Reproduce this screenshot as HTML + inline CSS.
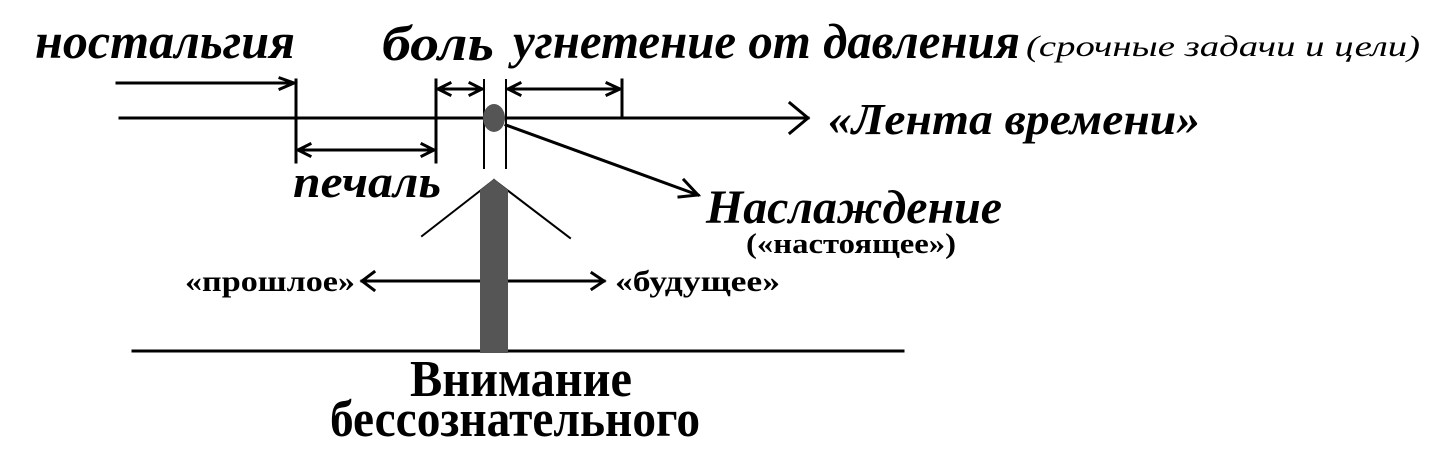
<!DOCTYPE html>
<html><head><meta charset="utf-8"><style>
html,body{margin:0;padding:0;background:#fff;}
svg{display:block}
.it{font-family:"Liberation Serif","DejaVu Serif",serif;font-style:italic;font-weight:bold;}
.b{font-family:"Liberation Serif","DejaVu Serif",serif;font-weight:bold;}
</style></head><body>
<svg width="1443" height="466" viewBox="0 0 1443 466" xmlns="http://www.w3.org/2000/svg">
<g stroke="#000" stroke-width="3" fill="none" stroke-linecap="square">
<line x1="120" y1="118" x2="808" y2="118"/>
<polyline points="790,103 808,118 790,133"/>
<line x1="296" y1="80" x2="296" y2="162"/>
<line x1="436" y1="80" x2="436" y2="162"/>
<line x1="484" y1="80" x2="484" y2="168" stroke-width="2"/>
<line x1="506" y1="80" x2="506" y2="168" stroke-width="2"/>
<line x1="622" y1="80" x2="622" y2="118"/>
<line x1="117" y1="83" x2="294" y2="83"/>
<polyline points="280,78 294,83 280,89"/>
<line x1="438" y1="89" x2="482" y2="89"/>
<polyline points="450,83 438,89 450,95"/>
<polyline points="470,83 482,89 470,95"/>
<line x1="508" y1="89" x2="620" y2="89"/>
<polyline points="520,83 508,89 520,95"/>
<polyline points="607,83 620,89 607,95"/>
<line x1="298" y1="150" x2="434" y2="150"/>
<polyline points="310,144 298,150 310,156"/>
<polyline points="422,144 434,150 422,156"/>
<line x1="506" y1="125" x2="698" y2="195"/>
<polyline points="684,180 698,195 679,197"/>
<line x1="494" y1="180" x2="422" y2="236" stroke-width="2"/>
<line x1="494" y1="180" x2="570" y2="238" stroke-width="2"/>
<line x1="133" y1="351" x2="903" y2="351"/>
<line x1="362" y1="281" x2="480" y2="281"/>
<polyline points="374,272 362,281 374,290"/>
<line x1="508" y1="281" x2="604" y2="281"/>
<polyline points="592,273 604,281 592,289"/>
</g>
<ellipse cx="494" cy="118" rx="11" ry="14" fill="#555"/>
<polygon points="480,190 494,179 508,190 508,353 480,353" fill="#555"/>
<text class="it" x="35" y="58" font-size="50" textLength="260" lengthAdjust="spacingAndGlyphs">ностальгия</text>
<text class="it" x="382" y="60" font-size="50" textLength="112" lengthAdjust="spacingAndGlyphs">боль</text>
<text class="it" x="513" y="58" font-size="50" textLength="507" lengthAdjust="spacingAndGlyphs">угнетение от давления</text>
<text font-family="Liberation Serif,serif" font-style="italic" x="1026" y="56" font-size="30" textLength="394" lengthAdjust="spacingAndGlyphs">(срочные задачи и цели)</text>
<text class="it" x="828" y="134" font-size="44" textLength="372" lengthAdjust="spacingAndGlyphs">«Лента времени»</text>
<text class="it" x="293" y="197" font-size="46" textLength="148" lengthAdjust="spacingAndGlyphs">печаль</text>
<text class="it" x="706" y="223" font-size="48" textLength="296" lengthAdjust="spacingAndGlyphs">Наслаждение</text>
<text class="b" x="746" y="253" font-size="28" textLength="210" lengthAdjust="spacingAndGlyphs">(«настоящее»)</text>
<text class="b" x="185" y="291" font-size="30" textLength="170" lengthAdjust="spacingAndGlyphs">«прошлое»</text>
<text class="b" x="615" y="291" font-size="30" textLength="165" lengthAdjust="spacingAndGlyphs">«будущее»</text>
<text class="b" x="410" y="396" font-size="52" textLength="222" lengthAdjust="spacingAndGlyphs">Внимание</text>
<text class="b" x="330" y="436" font-size="52" textLength="370" lengthAdjust="spacingAndGlyphs">бессознательного</text>
</svg>
</body></html>
